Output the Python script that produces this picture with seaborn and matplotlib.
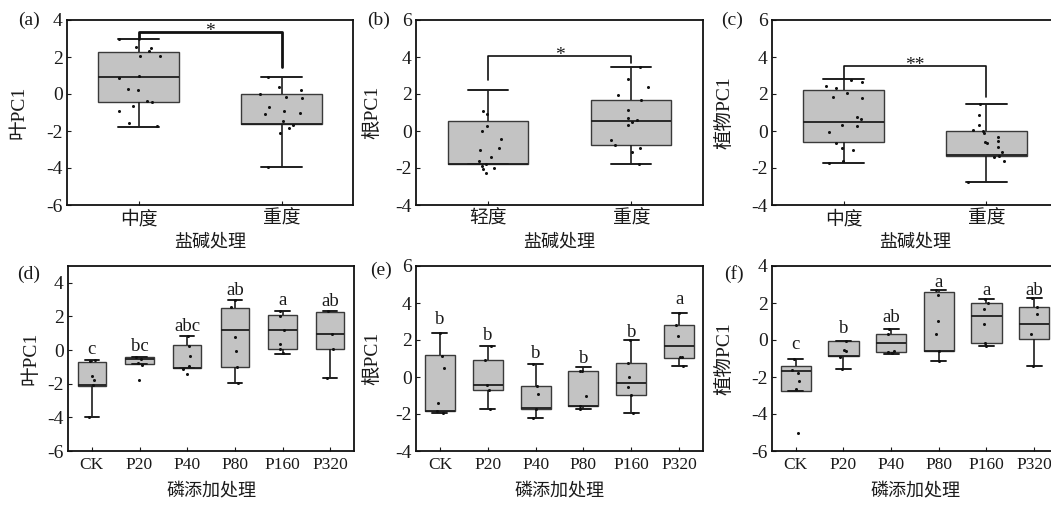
import numpy as np
import pandas as pd
import matplotlib
matplotlib.use("Agg")
import matplotlib.pyplot as plt
import seaborn as sns

# ---------------- data ----------------
salt_a = ["中度", "重度"]
salt_b = ["轻度", "重度"]
salt_c = ["中度", "重度"]
p_groups = ["CK", "P20", "P40", "P80", "P160", "P320"]

# box statistics per group: [lower whisker, Q1, median, Q3, upper whisker]
a_box = [[-1.78, -0.45, 0.90, 2.29, 2.97], [-3.96, -1.64, -1.62, 0.00, 0.94]]
b_box = [[-1.78, -1.78, -1.76, 0.52, 2.20], [-1.78, -0.75, 0.52, 1.66, 3.45]]
c_box = [[-1.75, -0.62, 0.47, 2.24, 2.80], [-2.73, -1.33, -1.31, 0.00, 1.44]]
d_box = [[-3.99, -2.12, -2.10, -0.71, -0.57],
         [-0.83, -0.83, -0.53, -0.41, -0.41],
         [-1.09, -1.09, -1.07, 0.28, 0.86],
         [-1.96, -1.01, 1.22, 2.51, 2.97],
         [-0.21, 0.06, 1.22, 2.07, 2.35],
         [-1.63, 0.08, 0.98, 2.27, 2.31]]
e_box = [[-1.97, -1.85, -1.83, 1.20, 2.40],
         [-1.71, -0.72, -0.42, 0.93, 1.70],
         [-2.21, -1.72, -1.70, -0.47, 0.70],
         [-1.71, -1.58, -1.56, 0.30, 0.53],
         [-1.97, -0.99, -0.33, 0.75, 2.00],
         [0.57, 1.02, 1.65, 2.79, 3.47]]
f_box = [[-2.74, -2.74, -1.67, -1.38, -1.04],
         [-1.58, -0.87, -0.85, -0.05, -0.05],
         [-0.73, -0.64, -0.14, 0.31, 0.58],
         [-1.16, -0.60, -0.58, 2.61, 2.72],
         [-0.32, -0.14, 1.30, 2.02, 2.20],
         [-1.41, 0.04, 0.89, 1.77, 2.27]]

# individual observations
a_pts = [[2.95, 2.50, 2.56, 2.30, 2.07, 2.05, 1.00, 0.85, 0.25, 0.20, -0.40, -0.42,
          -0.65, -0.90, -1.55, -1.75],
         [0.92, 0.36, 0.20, 0.00, -0.15, -0.20, -0.70, -0.90, -1.00, -1.10, -1.45,
          -1.65, -1.82, -2.10, -3.96]]
b_pts = [[0.92, 1.06, 0.29, -0.02, -0.44, -0.93, -1.02, -1.43, -1.60, -1.78, -1.88,
          -2.00, -2.07, -2.28],
         [3.45, 2.82, 2.37, 1.97, 1.66, 1.15, 0.70, 0.58, 0.47, 0.30, -0.47, -0.78,
          -0.93, -1.14, -1.78]]
c_pts = [[2.67, 2.76, 2.44, 2.30, 2.05, 1.82, 1.76, 0.64, 0.76, 0.33, 0.27, -0.05,
          -0.64, -0.90, -1.04, -1.60, -1.75],
         [1.44, 0.87, 0.33, 0.04, 0.00, -0.13, -0.31, -0.55, -0.64, -0.58, -0.84,
          -1.13, -1.40, -1.36, -1.60, -2.73]]
d_pts = [[-0.61, -0.63, -1.53, -1.80, -2.10, -3.99],
         [-0.53, -0.43, -0.77, -0.87, -1.80],
         [0.82, 0.22, -0.37, -0.93, -1.13, -1.41],
         [2.97, 2.55, 0.78, -0.08, -1.00, -1.96],
         [2.35, 2.05, 1.18, 0.36, 0.07, -0.17],
         [2.31, 0.98, 0.08, -1.63]]
e_pts = [[2.40, 1.14, 0.51, -1.40, -1.85, -1.97],
         [1.70, 0.93, -0.42, -0.72, -1.71],
         [0.70, -0.47, -0.90, -1.72, -2.21],
         [0.34, 0.30, -1.04, -1.58, -1.71],
         [2.00, 0.75, 0.00, -0.56, -0.99, -1.97],
         [3.47, 2.79, 2.22, 1.07, 1.07, 0.57]]
f_pts = [[-1.04, -1.63, -1.77, -2.22, -2.67, -5.01],
         [-0.05, -0.55, -0.59, -0.91, -1.58],
         [0.58, 0.31, -0.59, -0.64, -0.70],
         [2.72, 2.42, 1.03, 0.30, -0.60, -1.16],
         [2.20, 2.02, 1.70, 0.87, -0.15, -0.32],
         [2.27, 1.77, 1.39, 0.35, -1.41]]

# significance letters (bottom row) and their baseline heights
d_letters = ["c", "bc", "abc", "ab", "a", "ab"]
d_letter_y = [-0.21, -0.04, 1.12, 3.30, 2.70, 2.60]
e_letters = ["b", "b", "b", "b", "b", "a"]
e_letter_y = [2.86, 2.00, 1.02, 0.78, 2.15, 3.97]
f_letters = ["c", "b", "ab", "a", "a", "ab"]
f_letter_y = [-0.50, 0.38, 1.00, 2.87, 2.42, 2.42]

# significance brackets (top row): left leg end, bar height, right leg end, label
a_sig = [2.97, 3.37, 1.48, "*"]
b_sig = [2.75, 4.08, 3.70, "*"]
c_sig = [2.80, 3.51, 1.82, "**"]

# ---------------- style ----------------
sns.set_theme(style="white")
plt.rcParams["font.family"] = ["Liberation Serif", "Noto Sans CJK SC", "DejaVu Sans"]
plt.rcParams["axes.unicode_minus"] = False
np.random.seed(7)

FACE = "#c3c3c3"
LINE = "#1e1e1e"
TXT = "#1a1a1a"

W, H = 1051, 505
fig = plt.figure(figsize=(W / 100, H / 100), dpi=100)


def px_axes(left, top, right, bottom):
    return fig.add_axes([left / W, 1 - bottom / H, (right - left) / W, (bottom - top) / H])


def draw_panel(ax, groups, box, pts, ylim, yticks, ylabel, xlabel, width, jitter,
               ylab_x, xlab_y, xtick_size):
    box_df = pd.DataFrame({"g": np.repeat(groups, 5), "v": np.concatenate(box)})
    sns.boxplot(data=box_df, x="g", y="v", order=groups, whis=(0, 100), width=width,
                showfliers=False, color=FACE, linecolor=LINE, linewidth=1.1,
                saturation=1, ax=ax,
                boxprops=dict(edgecolor="#3a3a3a", linewidth=1.0),
                medianprops=dict(color=LINE, linewidth=1.3),
                whiskerprops=dict(color=LINE, linewidth=1.2),
                capprops=dict(color=LINE, linewidth=1.4))
    gs, vs = [], []
    for g, p in zip(groups, pts):
        gs += [g] * len(p)
        vs += list(p)
    pts_df = pd.DataFrame({"g": gs, "v": vs})
    sns.stripplot(data=pts_df, x="g", y="v", order=groups, jitter=jitter, size=2.2,
                  color="#111111", ax=ax, zorder=4)
    ax.set_ylim(*ylim)
    ax.set_yticks(yticks)
    ax.set_xlim(-0.5, len(groups) - 0.5)
    ax.set_ylabel(ylabel, fontsize=14, color=TXT)
    ax.set_xlabel(xlabel, fontsize=13, color=TXT)
    ax.yaxis.set_label_coords(ylab_x, 0.5)
    ax.xaxis.set_label_coords(0.5, xlab_y)
    ax.tick_params(axis="y", direction="in", length=3, width=0.8, pad=3,
                   labelsize=14, colors=TXT, left=True)
    ax.tick_params(axis="x", direction="in", length=3, width=0.8, pad=4,
                   labelsize=xtick_size, colors=TXT, bottom=True)
    for s in ax.spines.values():
        s.set_color("#111111")
        s.set_linewidth(1.3)


def bracket(ax, sig, lw):
    lo_l, bar, lo_r, lab = sig
    ax.plot([0, 0, 1, 1], [lo_l, bar, bar, lo_r], color="#111111", lw=lw, zorder=5)
    ax.text(0.5, bar - 0.23, lab, ha="center", va="baseline", fontsize=14, color=TXT)


def letters(ax, labs, ys):
    for i, (lab, y) in enumerate(zip(labs, ys)):
        ax.text(i, y, lab, ha="center", va="baseline", fontsize=13.5, color=TXT)


ax_a = px_axes(67, 20, 353, 205)
ax_b = px_axes(416, 20, 703, 205)
ax_c = px_axes(772, 20, 1058, 205)
ax_d = px_axes(68, 266, 354, 451)
ax_e = px_axes(416, 266, 703, 451)
ax_f = px_axes(772, 266, 1058, 451)

draw_panel(ax_a, salt_a, a_box, a_pts, (-6, 4), [-6, -4, -2, 0, 2, 4], "叶PC1", "盐碱处理",
           0.56, 0.16, -0.138, -0.152, 13.5)
draw_panel(ax_b, salt_b, b_box, b_pts, (-4, 6), [-4, -2, 0, 2, 4, 6], "根PC1", "盐碱处理",
           0.56, 0.14, -0.12, -0.152, 13.5)
draw_panel(ax_c, salt_c, c_box, c_pts, (-4, 6), [-4, -2, 0, 2, 4, 6], "植物PC1", "盐碱处理",
           0.56, 0.14, -0.134, -0.152, 13.5)
draw_panel(ax_d, p_groups, d_box, d_pts, (-6, 5), [-6, -4, -2, 0, 2, 4], "叶PC1", "磷添加处理",
           0.6, 0.08, -0.10, -0.168, 12.5)
draw_panel(ax_e, p_groups, e_box, e_pts, (-4, 6), [-4, -2, 0, 2, 4, 6], "根PC1", "磷添加处理",
           0.63, 0.08, -0.12, -0.168, 12.5)
draw_panel(ax_f, p_groups, f_box, f_pts, (-6, 4), [-6, -4, -2, 0, 2, 4], "植物PC1", "磷添加处理",
           0.63, 0.08, -0.134, -0.168, 12.5)

bracket(ax_a, a_sig, 2.0)
bracket(ax_b, b_sig, 1.2)
bracket(ax_c, c_sig, 1.2)
letters(ax_d, d_letters, d_letter_y)
letters(ax_e, e_letters, e_letter_y)
letters(ax_f, f_letters, f_letter_y)

for lab, x, y in [("(a)", 29, 20), ("(b)", 379, 20), ("(c)", 732, 20),
                  ("(d)", 29, 274), ("(e)", 381, 270), ("(f)", 734, 274)]:
    fig.text(x / W, 1 - y / H, lab, ha="center", va="center", fontsize=14, color=TXT)

fig.savefig("out.png", dpi=100, facecolor="white")
